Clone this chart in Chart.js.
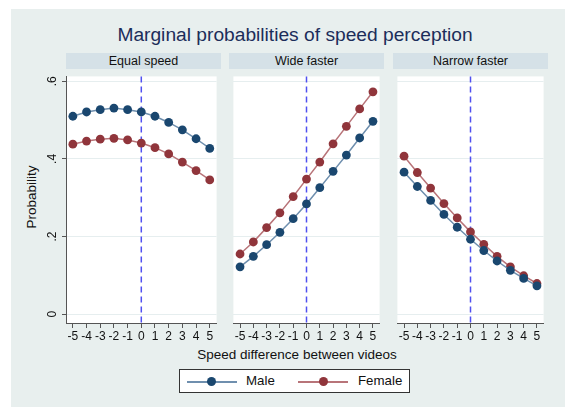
<!DOCTYPE html>
<html>
<head>
<meta charset="utf-8">
<script src="https://cdn.jsdelivr.net/npm/chart.js@4.4.0/dist/chart.umd.min.js"></script>
<style>
  body { margin: 0; width: 565px; height: 407px; background: #fff; position: relative; overflow: hidden;
         font-family: "Liberation Sans", Arial, sans-serif; color: #111; }
  #bg { position: absolute; left: 11px; top: 9px; right: 0; bottom: 0; background: #e8efee; }
  .abs { position: absolute; }
  #title { left: 0; width: 590px; top: 25px; height: 20px; line-height: 20px; text-align: center;
           font-size: 19.2px; color: #1c2d5a; }
  .hdr { top: 53px; height: 16px; line-height: 16px; text-align: center; font-size: 12.5px; background: #d5e1e7; }
  #xtitle { left: 197px; width: 200px; top: 347px; height: 16px; line-height: 16px; text-align: center; font-size: 13.5px; white-space: nowrap; }
  #ytitle { left: -18px; width: 100px; top: 189px; height: 16px; line-height: 16px; text-align: center; font-size: 13.5px;
            transform: rotate(-90deg); }
  #legend { left: 179px; top: 369px; width: 229px; height: 22px; background: #fff; border: 1px solid #333; }
  .lline { position: absolute; top: 11px; height: 2px; width: 50px; }
  .ldot { position: absolute; top: 7px; width: 9px; height: 9px; border-radius: 50%; }
  .ltxt { position: absolute; top: 3px; line-height: 16px; font-size: 13.3px; }
  canvas { position: absolute; }
</style>
</head>
<body>
<div id="bg"></div>
<div id="title" class="abs">Marginal probabilities of speed perception</div>
<div id="ytitle" class="abs">Probability</div>
<div id="xtitle" class="abs">Speed difference between videos</div>
<div id="legend" class="abs">
  <div class="lline" style="left:7px;background:#6f8fae"></div>
  <div class="ldot" style="left:27px;background:#1a476f"></div>
  <div class="ltxt" style="left:66px">Male</div>
  <div class="lline" style="left:118px;background:#b87479"></div>
  <div class="ldot" style="left:139px;background:#90353b"></div>
  <div class="ltxt" style="left:178px">Female</div>
</div>

<script>
const xValues = [-5, -4, -3, -2, -1, 0, 1, 2, 3, 4, 5];
const panelTitles = ["Equal speed", "Wide faster", "Narrow faster"];

const maleEqual    = [0.510, 0.521, 0.527, 0.531, 0.527, 0.521, 0.510, 0.494, 0.475, 0.452, 0.427];
const femaleEqual  = [0.438, 0.446, 0.451, 0.453, 0.449, 0.441, 0.429, 0.413, 0.392, 0.370, 0.346];
const maleWide     = [0.122, 0.149, 0.179, 0.211, 0.246, 0.284, 0.326, 0.368, 0.410, 0.454, 0.497];
const femaleWide   = [0.155, 0.186, 0.223, 0.261, 0.303, 0.348, 0.392, 0.439, 0.484, 0.529, 0.573];
const maleNarrow   = [0.366, 0.329, 0.293, 0.257, 0.224, 0.193, 0.164, 0.137, 0.113, 0.092, 0.073];
const femaleNarrow = [0.407, 0.365, 0.325, 0.285, 0.248, 0.212, 0.180, 0.149, 0.122, 0.099, 0.079];

const yTickValues = [0, 0.2, 0.4, 0.6];
const yTickLabels = ["0", ".2", ".4", ".6"];
const refLineX = 0;

const maleSeries = [maleEqual, maleWide, maleNarrow];
const femaleSeries = [femaleEqual, femaleWide, femaleNarrow];

// layout
const plotLefts = [66, 229, 393];
const plotW = 155, plotTop = 72, plotH = 251;
const yAxisW = 46, xAxisH = 24;

const plotBg = {
  id: "plotBg",
  beforeDraw: chart => {
    const { ctx, chartArea: a } = chart;
    ctx.save();
    ctx.fillStyle = "#fff";
    ctx.fillRect(a.left, a.top, a.right - a.left, a.bottom - a.top);
    ctx.restore();
  }
};

const zeroLine = {
  id: "zeroLine",
  beforeDatasetsDraw: chart => {
    const { ctx, chartArea: a } = chart;
    const x = chart.scales.x.getPixelForValue(refLineX);
    ctx.save();
    ctx.strokeStyle = "#5050f0";
    ctx.lineWidth = 1.5;
    ctx.setLineDash([6, 4]);
    ctx.beginPath();
    ctx.moveTo(x, a.top);
    ctx.lineTo(x, a.bottom);
    ctx.stroke();
    ctx.restore();
  }
};

const pts = arr => arr.map((v, i) => ({ x: xValues[i], y: v }));

panelTitles.forEach((t, p) => {
  const showY = p === 0;
  const hdr = document.createElement("div");
  hdr.className = "abs hdr";
  hdr.style.left = plotLefts[p] + "px";
  hdr.style.width = plotW + "px";
  hdr.textContent = t;
  document.body.appendChild(hdr);

  const cv = document.createElement("canvas");
  const leftW = showY ? yAxisW : 0;
  cv.width = plotW + leftW;
  cv.height = plotH + xAxisH;
  cv.style.left = (plotLefts[p] - leftW) + "px";
  cv.style.top = plotTop + "px";
  document.body.appendChild(cv);

  new Chart(cv.getContext("2d"), {
    type: "line",
    data: {
      datasets: [{
        label: "Male",
        data: pts(maleSeries[p]),
        borderColor: "#6f8fae",
        borderWidth: 1.5,
        pointBackgroundColor: "#1a476f",
        pointBorderColor: "#1a476f",
        pointBorderWidth: 0,
        pointRadius: 4.4,
        tension: 0
      }, {
        label: "Female",
        data: pts(femaleSeries[p]),
        borderColor: "#b87479",
        borderWidth: 1.5,
        pointBackgroundColor: "#90353b",
        pointBorderColor: "#90353b",
        pointBorderWidth: 0,
        pointRadius: 4.4,
        tension: 0
      }]
    },
    options: {
      responsive: false,
      animation: false,
      layout: { padding: 0 },
      plugins: { legend: { display: false }, tooltip: { enabled: false } },
      scales: {
        x: {
          type: "linear",
          min: -5.5,
          max: 5.5,
          afterBuildTicks: s => { s.ticks = xValues.map(v => ({ value: v })); },
          afterFit: s => { s.height = xAxisH; s.paddingLeft = 0; s.paddingRight = 0; },
          ticks: { autoSkip: false, maxRotation: 0, padding: 1, color: "#111",
                   font: { size: 12, family: "Liberation Sans" }, callback: v => String(v) },
          grid: { drawOnChartArea: false, drawTicks: true, tickLength: 5, tickColor: "#555" },
          border: { display: true, color: "#555", width: 1 }
        },
        y: {
          min: -0.0228,
          max: 0.6127,
          afterBuildTicks: s => { s.ticks = yTickValues.map(v => ({ value: v })); },
          afterFit: s => { s.width = leftW; s.paddingTop = 0; s.paddingBottom = 0; },
          ticks: { display: showY, minRotation: 90, maxRotation: 90, crossAlign: "center", padding: 4,
                   color: "#111", font: { size: 12, family: "Liberation Sans" },
                   callback: (v, i) => yTickLabels[i] },
          grid: { color: "#e6eeef", lineWidth: 1, drawTicks: showY, tickLength: 4, tickColor: "#555" },
          border: { display: showY, color: "#555", width: 1 }
        }
      }
    },
    plugins: [plotBg, zeroLine]
  });
});
</script>
</body>
</html>
